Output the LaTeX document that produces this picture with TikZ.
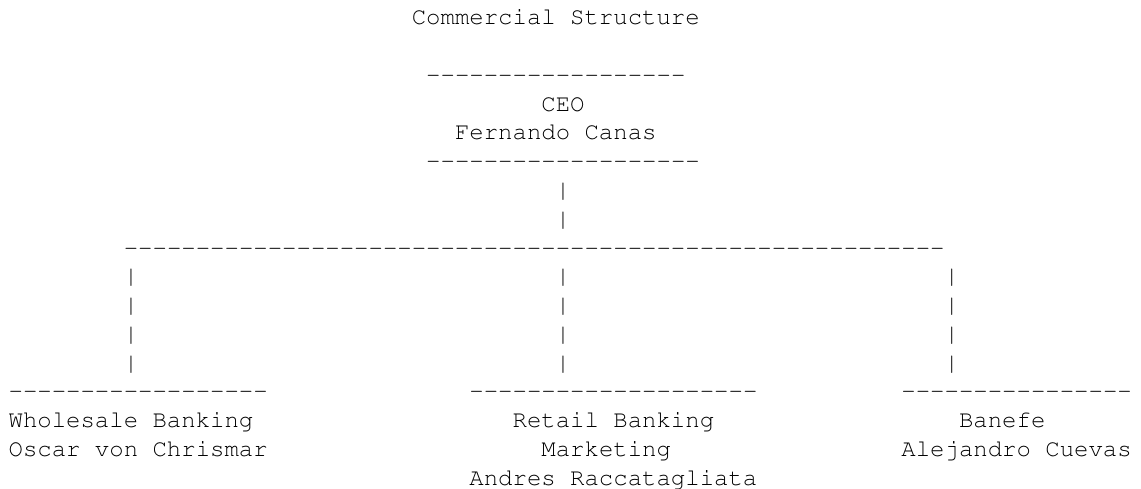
\documentclass[tikz,border=0pt]{standalone}
\usepackage[T1]{fontenc}
\newcommand\asciimono{\fontencoding{T1}\fontfamily{pcr}\fontseries{m}\fontshape{n}\fontsize{24pt}{28.8pt}\selectfont}
\newcount\dcnt
\newcommand\dashrun[1]{\dcnt=#1\relax\loop-\kern0pt\advance\dcnt by -1\relax\ifnum\dcnt>0\repeat}
\tikzset{
  txt/.style={anchor=base west, inner sep=0pt, outer sep=0pt, text=black,
    font=\asciimono},
}
\begin{document}
\begin{tikzpicture}[x=14.4pt,y=-28.75pt]
\fill[white] (-8.6pt,25pt) rectangle (1132.4pt,-464pt);
\useasboundingbox (-8.6pt,25pt) rectangle (1132.4pt,-464pt);
% title
\node[txt] (title) at (28,0) {Commercial Structure};
% CEO box
\node[txt] (ceotop) at (29,2) {\dashrun{18}};
\node[txt] (ceo) at (37,3) {CEO};
\node[txt] (ceoname) at (31,4) {Fernando Canas};
\node[txt] (ceobot) at (29,5) {\dashrun{19}};
% trunk
\node[txt] (trunkA) at (38,6) {|};
\node[txt] (trunkB) at (38,7) {|};
\node[txt] (bus) at (8,8) {\dashrun{57}};
% branches
\foreach \r in {9,10,11,12}{
  \node[txt] (lbr\r) at (8,\r) {|};
  \node[txt] (mbr\r) at (38,\r) {|};
  \node[txt] (rbr\r) at (65,\r) {|};
}
% bottom boxes
\node[txt] (wtop) at (0,13) {\dashrun{18}};
\node[txt] (rtop) at (32,13) {\dashrun{20}};
\node[txt] (btop) at (62,13) {\dashrun{16}};
\node[txt] (whole) at (0,14) {Wholesale Banking};
\node[txt] (wname) at (0,15) {Oscar von Chrismar};
\node[txt] (retail) at (35,14) {Retail Banking};
\node[txt] (mkt) at (37,15) {Marketing};
\node[txt] (rname) at (32,16) {Andres Raccatagliata};
\node[txt] (banefe) at (66,14) {Banefe};
\node[txt] (bname) at (62,15) {Alejandro Cuevas};
\end{tikzpicture}
\end{document}
